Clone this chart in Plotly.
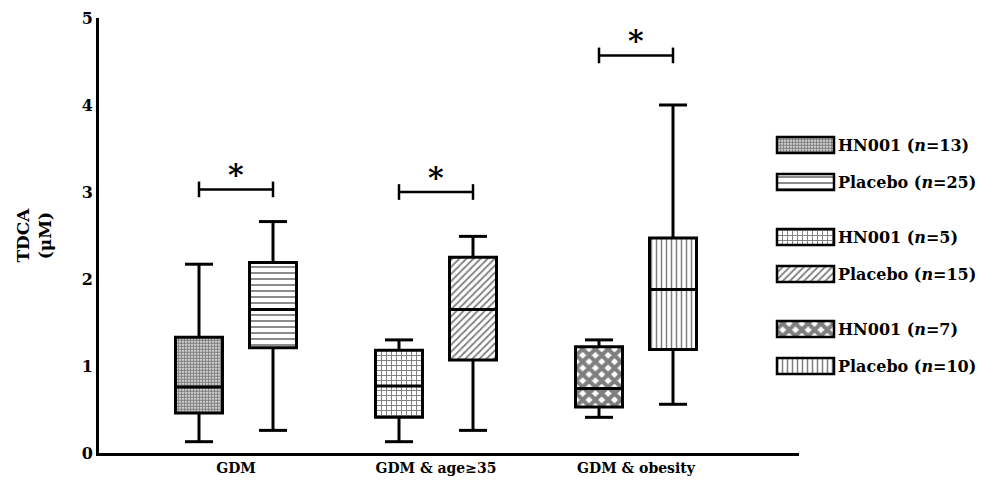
import plotly.graph_objects as go

# ---------------- data ----------------
groups = ["GDM", "GDM & age≥35", "GDM & obesity"]

hn_min = [0.13, 0.13, 0.41]
hn_q1 = [0.46, 0.41, 0.53]
hn_med = [0.76, 0.77, 0.74]
hn_q3 = [1.33, 1.18, 1.22]
hn_max = [2.17, 1.30, 1.30]

pl_min = [0.26, 0.26, 0.56]
pl_q1 = [1.21, 1.07, 1.19]
pl_med = [1.65, 1.65, 1.88]
pl_q3 = [2.19, 2.25, 2.47]
pl_max = [2.66, 2.49, 4.00]

sig_y = [3.03, 3.00, 4.57]

legend_labels = [
    "HN001 (<i>n</i>=13)", "Placebo (<i>n</i>=25)",
    "HN001 (<i>n</i>=5)", "Placebo (<i>n</i>=15)",
    "HN001 (<i>n</i>=7)", "Placebo (<i>n</i>=10)",
]

y_ticks = [0, 1, 2, 3, 4, 5]

# ---------------- styles ----------------
FONT = "DejaVu Serif"
hn_patterns = [
    dict(shape=".", size=3, solidity=0.7),
    dict(shape="+", size=5, solidity=0.35),
    dict(shape="x", size=9, solidity=0.7),
]
pl_patterns = [
    dict(shape="-", size=6, solidity=0.3),
    dict(shape="/", size=5, solidity=0.35),
    dict(shape="|", size=5, solidity=0.3),
]

offset = 0.185
box_w = 0.235
cap_half = 0.07
LW = 3

fig = go.Figure()


def add_box(pos, mn, q1, med, q3, mx, pat):
    # whiskers + caps
    xs = [pos, pos, None, pos, pos, None,
          pos - cap_half, pos + cap_half, None, pos - cap_half, pos + cap_half]
    ys = [q3, mx, None, q1, mn, None, mx, mx, None, mn, mn]
    fig.add_trace(go.Scatter(x=xs, y=ys, mode="lines",
                             line=dict(color="black", width=LW),
                             hoverinfo="skip"))
    fig.add_trace(go.Bar(
        x=[pos], y=[q3 - q1], base=[q1], width=box_w,
        marker=dict(color="white",
                    line=dict(color="black", width=LW),
                    pattern=dict(fgcolor="black", bgcolor="white", **pat)),
        hoverinfo="skip"))
    fig.add_trace(go.Scatter(x=[pos - box_w / 2, pos + box_w / 2], y=[med, med],
                             mode="lines", line=dict(color="black", width=LW),
                             hoverinfo="skip"))


for i in range(len(groups)):
    add_box(i - offset, hn_min[i], hn_q1[i], hn_med[i], hn_q3[i], hn_max[i], hn_patterns[i])
    add_box(i + offset, pl_min[i], pl_q1[i], pl_med[i], pl_q3[i], pl_max[i], pl_patterns[i])
    # significance bar
    a, b, s = i - offset, i + offset, sig_y[i]
    fig.add_trace(go.Scatter(
        x=[a, b, None, a, a, None, b, b],
        y=[s, s, None, s - 0.09, s + 0.09, None, s - 0.09, s + 0.09],
        mode="lines", line=dict(color="black", width=2.5), hoverinfo="skip"))
    fig.add_annotation(x=i, y=s, xref="x", yref="y", text="<b>*</b>",
                       showarrow=False, yanchor="bottom", yshift=-5,
                       font=dict(family=FONT, size=30, color="black"))

# ---------------- legend (custom, on pixel-like secondary axes) ----------------
sw_x0, sw_w, sw_h = 777, 57, 16
leg_patterns = []
for i in range(3):
    leg_patterns += [hn_patterns[i], pl_patterns[i]]
for k, lab in enumerate(legend_labels):
    yc = 145 + (k // 2) * 92 + (k % 2) * 37
    fig.add_trace(go.Bar(
        x=[sw_w], y=[yc], base=[sw_x0], width=sw_h, orientation="h",
        xaxis="x2", yaxis="y2",
        marker=dict(color="white", line=dict(color="black", width=2.5),
                    pattern=dict(fgcolor="black", bgcolor="white", **leg_patterns[k])),
        hoverinfo="skip"))
    fig.add_annotation(x=sw_x0 + sw_w + 2, y=yc, xref="x2", yref="y2",
                       text=lab, showarrow=False, xanchor="left", yanchor="middle",
                       font=dict(family=FONT, size=16, color="black", weight="bold"))

W, H = 983, 488
ml, mr, mt, mb = 99, 5, 18, 35
pw = W - ml - mr

fig.update_layout(
    width=W, height=H,
    margin=dict(l=ml, r=mr, t=mt, b=mb),
    plot_bgcolor="white", paper_bgcolor="white",
    showlegend=False, barmode="overlay",
    xaxis=dict(domain=[0, 700 / pw], range=[-0.685, 2.815],
               tickvals=list(range(len(groups))), ticktext=groups,
               showline=True, linewidth=3, linecolor="black",
               ticks="", showgrid=False, zeroline=False, automargin=False,
               tickfont=dict(family=FONT, size=14, color="black", weight="bold")),
    yaxis=dict(range=[0, 5], tickvals=y_ticks,
               showline=True, linewidth=3, linecolor="black",
               ticks="", showgrid=False, zeroline=False, automargin=False,
               tickfont=dict(family=FONT, size=16, color="black", weight="bold"),
               title=dict(text="TDCA<br>(μM)", standoff=26,
                          font=dict(family=FONT, size=17, color="black", weight="bold"))),
    xaxis2=dict(domain=[(770 - ml) / pw, 1], range=[770, 978], anchor="y2",
                visible=False),
    yaxis2=dict(domain=[0, 1], range=[453, 18], anchor="x2", visible=False),
)

fig.write_html("out.html", config={"displayModeBar": False},
               post_script="document.body.style.margin='0';")
